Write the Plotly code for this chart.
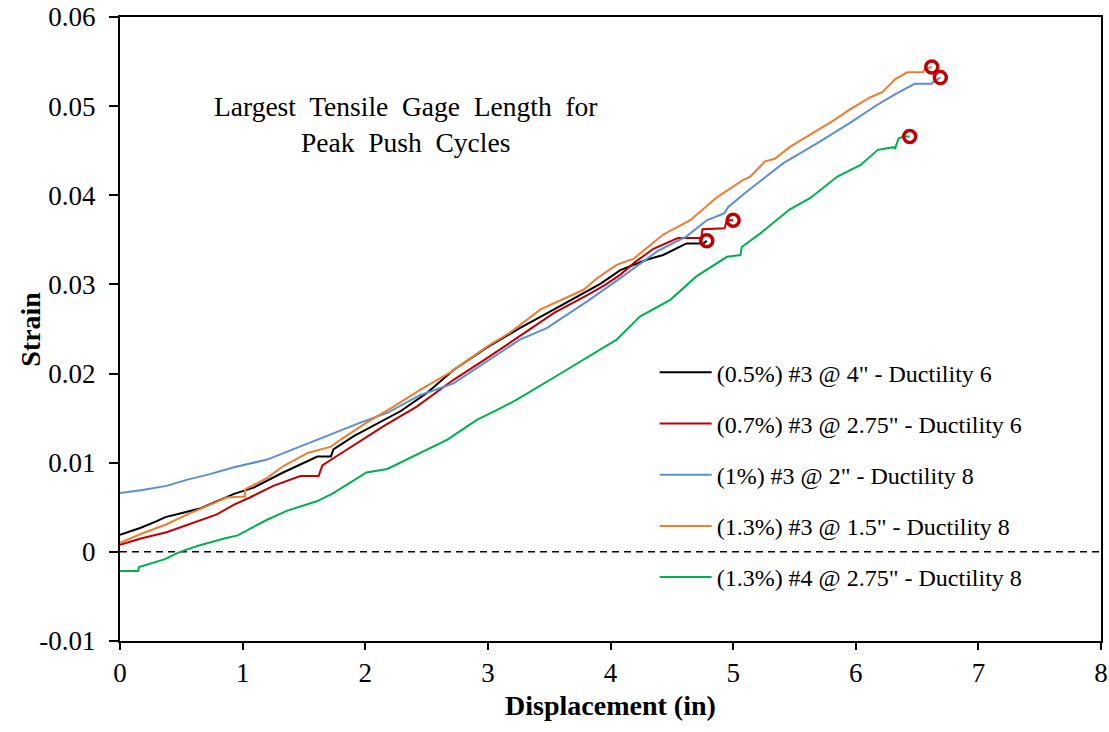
import plotly.graph_objects as go

# ---- data ----
names = [
    '(0.5%) #3 @ 4" - Ductility 6',
    '(0.7%) #3 @ 2.75" - Ductility 6',
    '(1%) #3 @ 2" - Ductility 8',
    '(1.3%) #3 @ 1.5" - Ductility 8',
    '(1.3%) #4 @ 2.75" - Ductility 8',
]

x_black = [0, 0.17, 0.30, 0.37, 0.49, 0.66, 0.93, 1.09, 1.33, 1.61, 1.72, 1.74, 1.91, 2.15, 2.29, 2.50,
           2.72, 2.99, 3.26, 3.54, 3.75, 3.92, 4.08, 4.30, 4.43, 4.62, 4.76, 4.785]
y_black = [0.0019, 0.0027, 0.00345, 0.0039, 0.0043, 0.0049, 0.0065, 0.0072, 0.0089, 0.0107, 0.0107, 0.0115,
           0.0130, 0.0148, 0.0158, 0.0178, 0.0204, 0.0229, 0.0251, 0.0272, 0.0288, 0.0301, 0.0316, 0.0328,
           0.0333, 0.0346, 0.0346, 0.0349]

x_red = [0, 0.17, 0.38, 0.60, 0.79, 0.93, 1.06, 1.25, 1.47, 1.62, 1.65, 1.74, 1.91, 2.15, 2.42, 2.72,
         2.99, 3.26, 3.54, 3.81, 3.95, 4.08, 4.20, 4.35, 4.55, 4.74, 4.75, 4.93, 4.95, 5.00]
y_red = [0.0008, 0.0015, 0.0022, 0.0033, 0.0042, 0.0053, 0.0061, 0.0074, 0.0085, 0.0085, 0.0097, 0.0105,
         0.0120, 0.0141, 0.0163, 0.0193, 0.0217, 0.0242, 0.0268, 0.0288, 0.0299, 0.0311, 0.0325, 0.0340,
         0.0352, 0.0352, 0.0362, 0.0363, 0.0372, 0.0372]

x_blue = [0, 0.17, 0.38, 0.55, 0.74, 0.93, 1.20, 1.47, 1.74, 1.96, 2.18, 2.45, 2.72, 2.99, 3.26, 3.48,
          3.81, 4.08, 4.38, 4.62, 4.785, 4.93, 4.96, 5.11, 5.41, 5.68, 5.95, 6.17, 6.33, 6.48, 6.62, 6.63, 6.69]
y_blue = [0.0066, 0.0069, 0.0074, 0.0081, 0.00875, 0.0095, 0.01035, 0.01185, 0.01335, 0.0145, 0.0156,
          0.0176, 0.0189, 0.0214, 0.0238, 0.0251, 0.0281, 0.0307, 0.0337, 0.0354, 0.0372, 0.0380, 0.0387,
          0.0404, 0.0436, 0.0458, 0.0481, 0.0501, 0.0514, 0.0525, 0.0525, 0.0527, 0.0532]

x_orange = [0, 0.17, 0.38, 0.55, 0.79, 0.87, 1.02, 1.02, 1.20, 1.33, 1.53, 1.72, 1.80, 2.01, 2.23, 2.45,
            2.69, 2.99, 3.18, 3.43, 3.78, 3.89, 4.05, 4.19, 4.43, 4.65, 4.87, 5.08, 5.14, 5.26, 5.34, 5.46,
            5.82, 5.95, 6.12, 6.22, 6.32, 6.42, 6.55, 6.56, 6.62]
y_orange = [0.0010, 0.0020, 0.0031, 0.0042, 0.0056, 0.0061, 0.0062, 0.0070, 0.0083, 0.0096, 0.0111, 0.0118,
            0.0126, 0.0145, 0.0163, 0.0182, 0.0201, 0.0230, 0.0246, 0.0272, 0.0294, 0.0307, 0.0322, 0.0329,
            0.0356, 0.0372, 0.0398, 0.0417, 0.0421, 0.0438, 0.0441, 0.0454, 0.0484, 0.0496, 0.0510, 0.0516,
            0.0530, 0.0538, 0.0538, 0.0541, 0.0544]

x_green = [0, 0.15, 0.155, 0.36, 0.49, 0.63, 0.85, 0.96, 1.20, 1.36, 1.61, 1.74, 2.01, 2.18, 2.67, 2.91,
           3.10, 3.24, 3.64, 4.05, 4.24, 4.49, 4.70, 4.95, 5.06, 5.07, 5.22, 5.46, 5.63, 5.85, 6.04, 6.18,
           6.31, 6.32, 6.35, 6.39, 6.44]
y_green = [-0.00215, -0.00215, -0.0017, -0.00084, 0.0000, 0.00065, 0.0015, 0.00185, 0.0036, 0.0046, 0.0057,
           0.0066, 0.0089, 0.0093, 0.0126, 0.0148, 0.0161, 0.0171, 0.0204, 0.0238, 0.0264, 0.0283, 0.0309,
           0.0331, 0.0333, 0.0342, 0.0357, 0.0384, 0.0397, 0.0421, 0.0434, 0.0451, 0.0454, 0.0452, 0.0464,
           0.0466, 0.0466]

# failure points (end of each test)
x_end = [4.785, 5.00, 6.69, 6.62, 6.44]
y_end = [0.0349, 0.0372, 0.0532, 0.0544, 0.0466]

x_ticks = [0, 1, 2, 3, 4, 5, 6, 7, 8]
y_ticks = [-0.01, 0, 0.01, 0.02, 0.03, 0.04, 0.05, 0.06]
y_ticktext = ["-0.01", "0", "0.01", "0.02", "0.03", "0.04", "0.05", "0.06"]

title_text = "Largest  Tensile  Gage  Length  for<br>Peak  Push  Cycles"
x_title = "Displacement (in)"
y_title = "Strain"

# ---- styles ----
colors = ["#000000", "#C00000", "#5B8ED3", "#ED7D31", "#00B050"]
FONT = "Liberation Serif, Times New Roman, serif"

series_x = [x_black, x_red, x_blue, x_orange, x_green]
series_y = [y_black, y_red, y_blue, y_orange, y_green]

fig = go.Figure()
for i, (xs, ys) in enumerate(zip(series_x, series_y)):
    fig.add_trace(go.Scatter(
        x=xs, y=ys, mode="lines", name=names[i],
        line=dict(color=colors[i], width=2),
        legendgroup=f"g{i}",
    ))

fig.add_trace(go.Scatter(
    x=x_end, y=y_end, mode="markers", showlegend=False,
    marker=dict(symbol="circle-open", size=12, color="#C00000", line=dict(width=3.5, color="#C00000")),
))

fig.add_shape(type="line", xref="x", yref="y", x0=0, x1=8, y0=0, y1=0,
              line=dict(color="black", width=1.5, dash="7px,5px"), layer="below")

fig.add_annotation(x=2.33, y=0.0479, xref="x", yref="y", text=title_text, showarrow=False,
                   font=dict(family=FONT, size=27.5, color="black"), align="center")

# y-axis title placed as rotated text left of the tick labels
fig.add_annotation(x=-0.092, y=0.5, xref="paper", yref="paper", text=f"<b>{y_title}</b>",
                   showarrow=False, textangle=-90, xanchor="center", yanchor="middle",
                   font=dict(family=FONT, size=28, color="black"))

fig.update_layout(
    width=1109, height=732,
    margin=dict(l=120, r=8, t=17, b=91),
    paper_bgcolor="white", plot_bgcolor="white",
    font=dict(family=FONT, color="black"),
    showlegend=True,
    legend=dict(
        x=0.545, y=0.466, xanchor="left", yanchor="top",
        bgcolor="rgba(0,0,0,0)", borderwidth=0,
        font=dict(family=FONT, size=24, color="black"),
        traceorder="grouped", tracegroupgap=17, itemwidth=52,
    ),
    xaxis=dict(
        range=[0, 8], tickvals=x_ticks, ticktext=[str(v) for v in x_ticks],
        ticks="outside", ticklen=7, tickwidth=1.5, tickcolor="black",
        showline=True, linewidth=2, linecolor="black", mirror=True,
        showgrid=False, zeroline=False, automargin=False,
        tickfont=dict(family=FONT, size=27, color="black"),
        title=dict(text=f"<b>{x_title}</b>", font=dict(family=FONT, size=28, color="black"), standoff=8),
    ),
    yaxis=dict(
        range=[-0.01, 0.06], tickvals=y_ticks, ticktext=y_ticktext,
        ticks="outside", ticklen=9, tickwidth=1.5, tickcolor="black",
        showline=True, linewidth=2, linecolor="black", mirror=True,
        showgrid=False, zeroline=False, automargin=False, ticklabelstandoff=8,
        tickfont=dict(family=FONT, size=27, color="black"),
    ),
)

fig.write_html("out.html", config={"displayModeBar": False},
               post_script="document.body.style.margin='0';document.body.style.overflow='hidden';")
